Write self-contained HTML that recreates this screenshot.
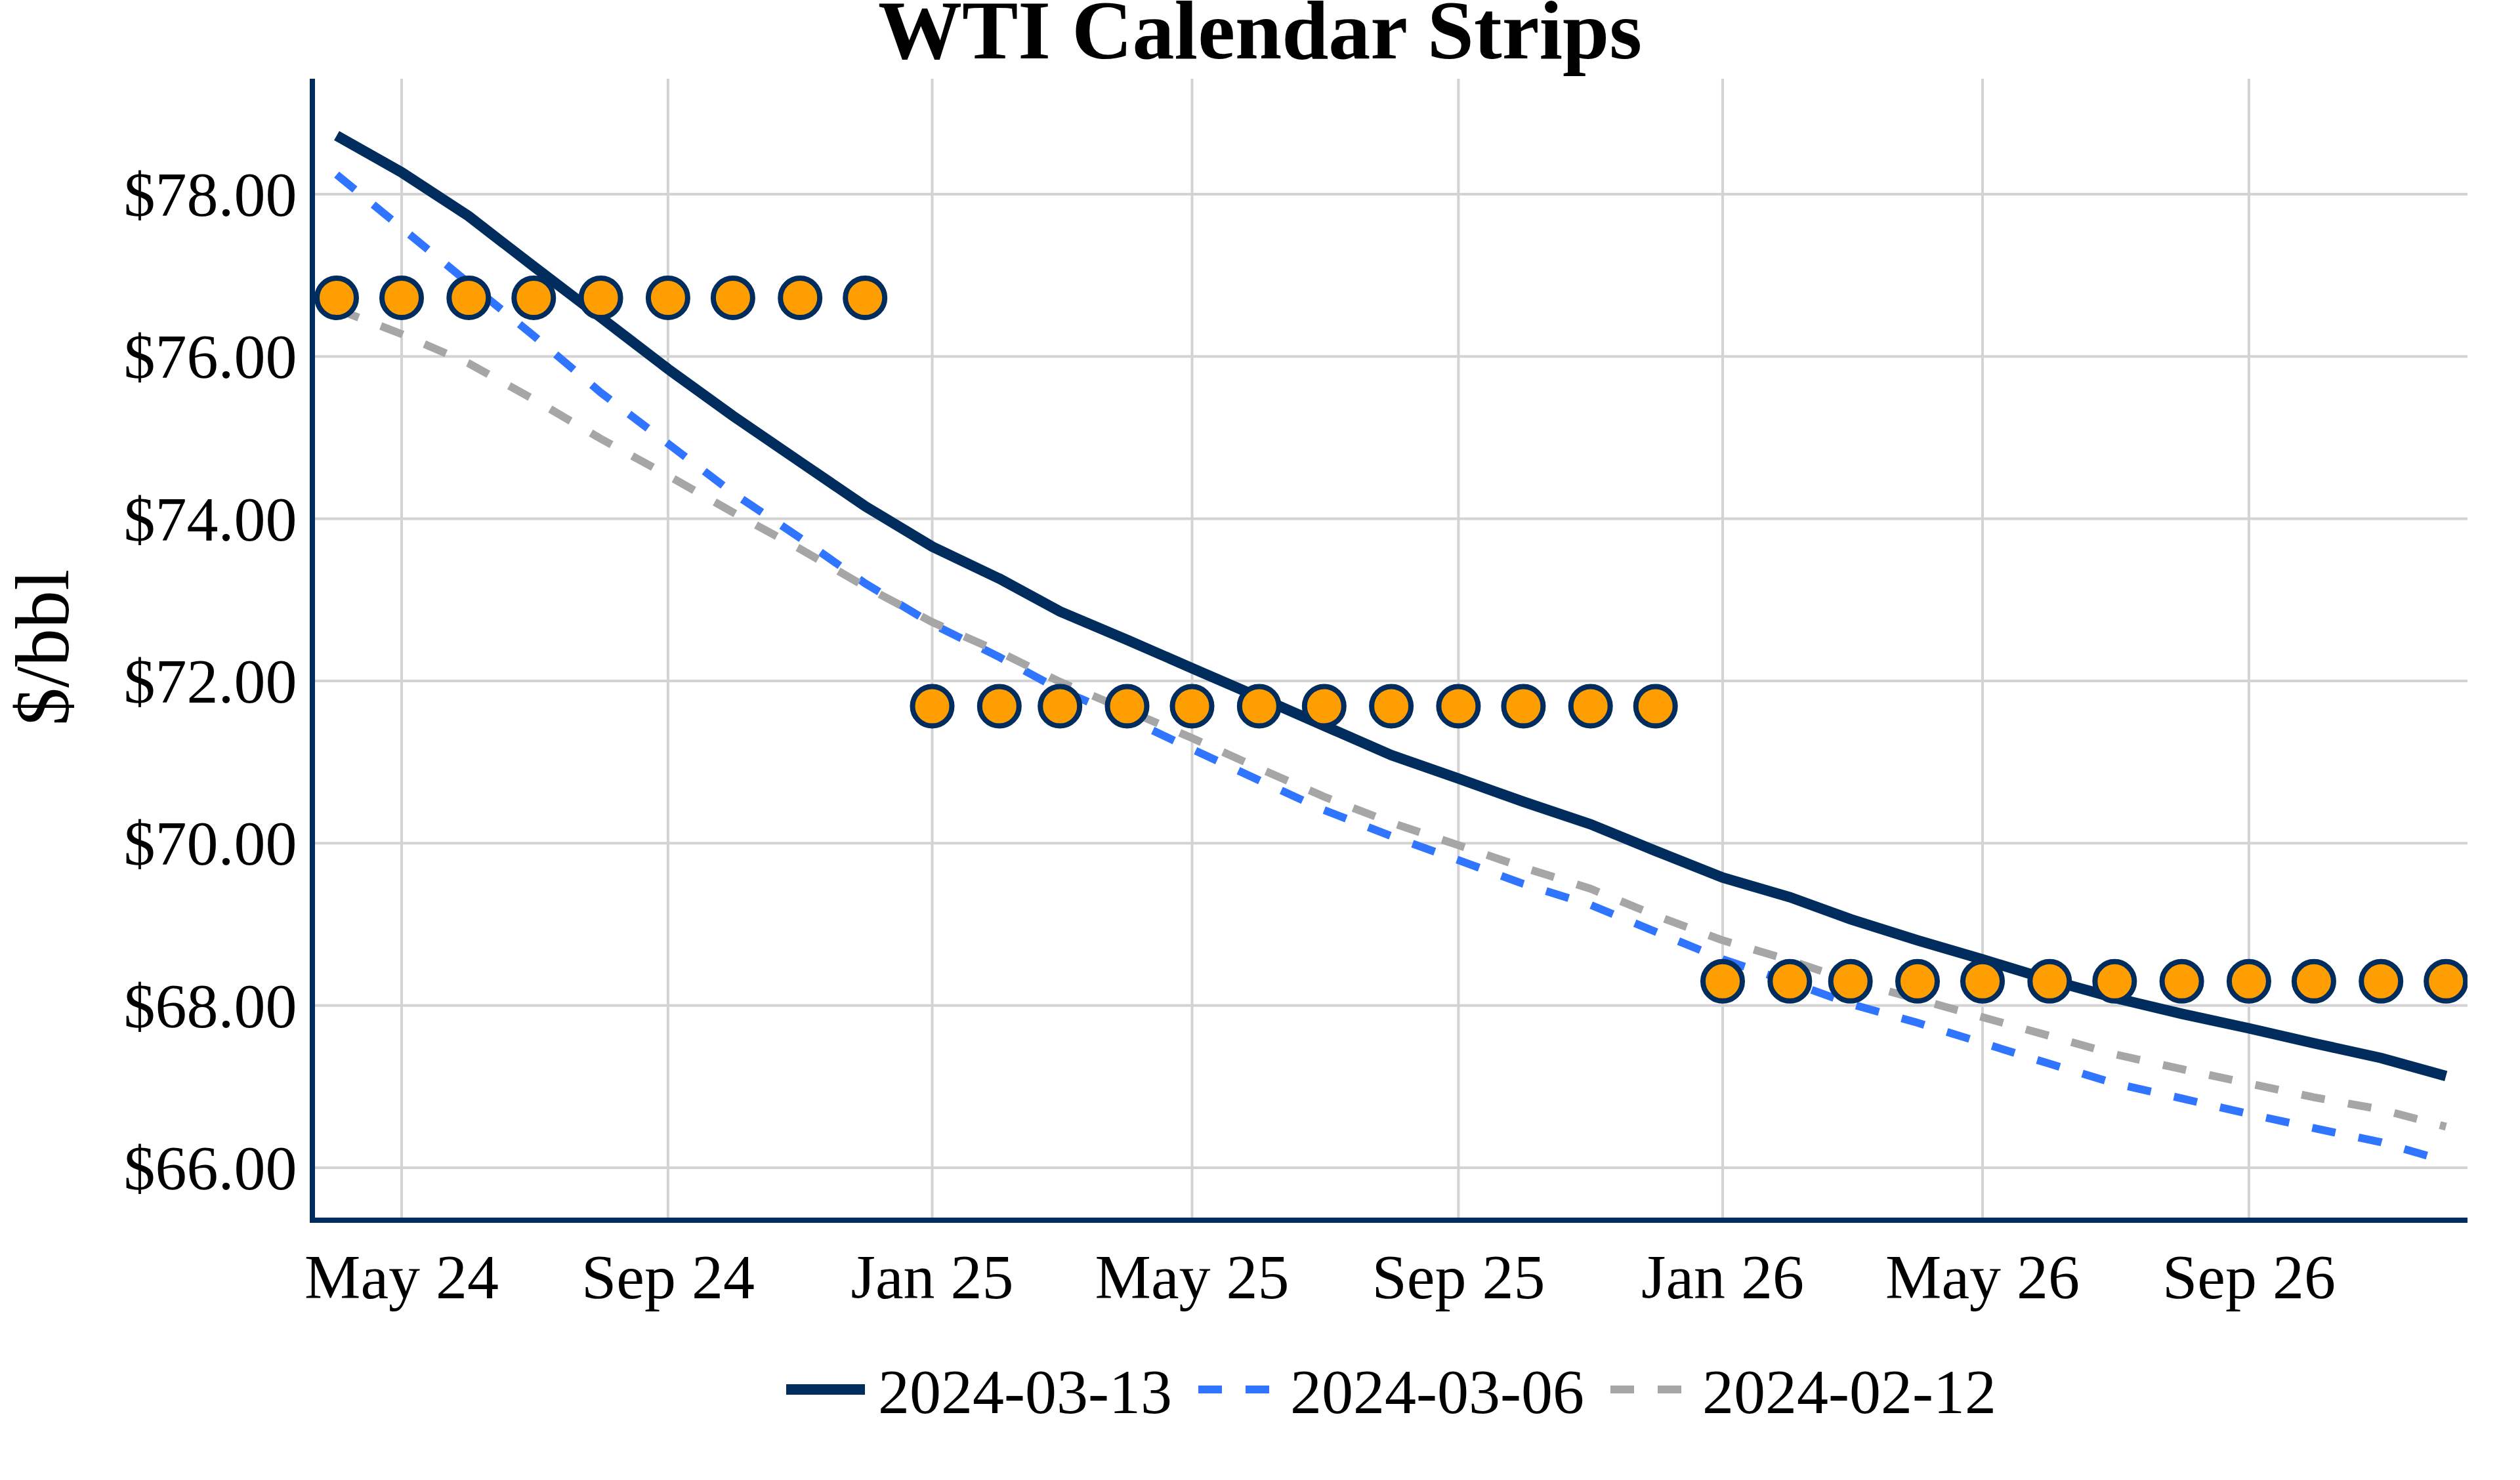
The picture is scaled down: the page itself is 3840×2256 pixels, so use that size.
<!DOCTYPE html>
<html lang="en">
<head>
<meta charset="utf-8">
<title>WTI Calendar Strips</title>
<style>
html,body{margin:0;padding:0;background:#fff;}
body{width:3840px;height:2256px;overflow:hidden;}
svg{display:block;}
text{font-family:"Liberation Serif",serif;fill:#000;white-space:pre;}
.tick{font-size:96px;}
.ttl{font-size:128px;font-weight:bold;}
.ax{font-size:116px;}
</style>
</head>
<body>
<svg width="3840" height="2256" viewBox="0 0 3840 2256">
<defs><clipPath id="plot"><rect x="480" y="120" width="3280" height="1736"/></clipPath></defs>
<rect x="0" y="0" width="3840" height="2256" fill="#ffffff"/>
<g fill="#D3D3D3">
<rect x="610.00" y="120" width="4" height="1736"/>
<rect x="1015.90" y="120" width="4" height="1736"/>
<rect x="1418.50" y="120" width="4" height="1736"/>
<rect x="1814.50" y="120" width="4" height="1736"/>
<rect x="2220.40" y="120" width="4" height="1736"/>
<rect x="2623.00" y="120" width="4" height="1736"/>
<rect x="3019.00" y="120" width="4" height="1736"/>
<rect x="3424.90" y="120" width="4" height="1736"/>
<rect x="480" y="294.00" width="3280" height="4"/>
<rect x="480" y="541.33" width="3280" height="4"/>
<rect x="480" y="788.67" width="3280" height="4"/>
<rect x="480" y="1036.00" width="3280" height="4"/>
<rect x="480" y="1283.33" width="3280" height="4"/>
<rect x="480" y="1530.67" width="3280" height="4"/>
<rect x="480" y="1778.00" width="3280" height="4"/>
</g>
<g clip-path="url(#plot)" fill="none" stroke-linejoin="miter" stroke-miterlimit="2">
<path d="M513.0,206.8 L612.0,262.7 L714.3,329.6 L813.3,406.2 L915.6,484.0 L1017.9,562.4 L1116.9,634.0 L1219.2,704.0 L1318.2,771.5 L1420.5,833.2 L1522.8,882.0 L1615.2,932.0 L1717.5,975.3 L1816.5,1018.6 L1918.8,1062.8 L2017.8,1106.4 L2120.1,1151.0 L2222.4,1186.8 L2321.4,1222.1 L2423.7,1256.4 L2522.7,1297.0 L2625.0,1337.8 L2727.3,1367.5 L2819.7,1401.1 L2922.0,1433.3 L3021.0,1462.4 L3123.3,1493.6 L3222.3,1521.0 L3324.6,1545.4 L3426.9,1567.5 L3525.9,1590.2 L3628.2,1612.8 L3727.2,1640.2" stroke="#002D5E" stroke-width="16"/>
<path d="M513.0,266.1 L612.0,347.4 L714.3,431.5 L813.3,511.8 L915.6,598.5 L1017.9,676.2 L1116.9,751.5 L1219.2,820.0 L1318.2,889.1 L1420.5,951.1 L1522.8,1001.6 L1615.2,1051.5 L1717.5,1095.0 L1816.5,1141.9 L1918.8,1189.5 L2017.8,1234.9 L2120.1,1274.5 L2222.4,1311.2 L2321.4,1347.4 L2423.7,1379.4 L2522.7,1420.3 L2625.0,1462.2 L2727.3,1496.8 L2819.7,1530.2 L2922.0,1559.1 L3021.0,1589.8 L3123.3,1621.6 L3222.3,1651.4 L3324.6,1674.4 L3426.9,1698.0 L3525.9,1719.7 L3628.2,1741.1 L3727.2,1769.9" stroke="#3075FF" stroke-width="12" stroke-dasharray="36,36"/>
<path d="M513.0,471.1 L612.0,509.2 L714.3,554.0 L813.3,608.7 L915.6,668.9 L1017.9,724.8 L1116.9,781.0 L1219.2,836.8 L1318.2,894.0 L1420.5,948.3 L1522.8,993.6 L1615.2,1039.4 L1717.5,1082.5 L1816.5,1125.1 L1918.8,1171.3 L2017.8,1214.5 L2120.1,1254.0 L2222.4,1288.4 L2321.4,1322.2 L2423.7,1354.7 L2522.7,1395.4 L2625.0,1433.3 L2727.3,1463.8 L2819.7,1495.2 L2922.0,1523.0 L3021.0,1550.5 L3123.3,1579.1 L3222.3,1607.0 L3324.6,1629.7 L3426.9,1651.5 L3525.9,1672.6 L3628.2,1691.2 L3727.2,1717.4" stroke="#A6A6A6" stroke-width="12" stroke-dasharray="36,36"/>
</g>
<g clip-path="url(#plot)" fill="#FF9E00" stroke="#002D5E" stroke-width="8">
<circle cx="513.0" cy="454.0" r="30"/>
<circle cx="612.0" cy="454.0" r="30"/>
<circle cx="714.3" cy="454.0" r="30"/>
<circle cx="813.3" cy="454.0" r="30"/>
<circle cx="915.6" cy="454.0" r="30"/>
<circle cx="1017.9" cy="454.0" r="30"/>
<circle cx="1116.9" cy="454.0" r="30"/>
<circle cx="1219.2" cy="454.0" r="30"/>
<circle cx="1318.2" cy="454.0" r="30"/>
<circle cx="1420.5" cy="1076.5" r="30"/>
<circle cx="1522.8" cy="1076.5" r="30"/>
<circle cx="1615.2" cy="1076.5" r="30"/>
<circle cx="1717.5" cy="1076.5" r="30"/>
<circle cx="1816.5" cy="1076.5" r="30"/>
<circle cx="1918.8" cy="1076.5" r="30"/>
<circle cx="2017.8" cy="1076.5" r="30"/>
<circle cx="2120.1" cy="1076.5" r="30"/>
<circle cx="2222.4" cy="1076.5" r="30"/>
<circle cx="2321.4" cy="1076.5" r="30"/>
<circle cx="2423.7" cy="1076.5" r="30"/>
<circle cx="2522.7" cy="1076.5" r="30"/>
<circle cx="2625.0" cy="1495.8" r="30"/>
<circle cx="2727.3" cy="1495.8" r="30"/>
<circle cx="2819.7" cy="1495.8" r="30"/>
<circle cx="2922.0" cy="1495.8" r="30"/>
<circle cx="3021.0" cy="1495.8" r="30"/>
<circle cx="3123.3" cy="1495.8" r="30"/>
<circle cx="3222.3" cy="1495.8" r="30"/>
<circle cx="3324.6" cy="1495.8" r="30"/>
<circle cx="3426.9" cy="1495.8" r="30"/>
<circle cx="3525.9" cy="1495.8" r="30"/>
<circle cx="3628.2" cy="1495.8" r="30"/>
<circle cx="3727.2" cy="1495.8" r="30"/>
</g>
<g shape-rendering="crispEdges" fill="#002D5E"><rect x="472" y="120" width="8" height="1744"/><rect x="472" y="1856" width="3288" height="8"/></g>
<g class="tick" text-anchor="middle">
<text x="612.0" y="1979">May 24</text>
<text x="1017.9" y="1979">Sep 24</text>
<text x="1420.5" y="1979">Jan 25</text>
<text x="1816.5" y="1979">May 25</text>
<text x="2222.4" y="1979">Sep 25</text>
<text x="2625.0" y="1979">Jan 26</text>
<text x="3021.0" y="1979">May 26</text>
<text x="3426.9" y="1979">Sep 26</text>
</g>
<g class="tick" text-anchor="end">
<text x="452.5" y="329.1">$78.00</text>
<text x="452.5" y="576.4">$76.00</text>
<text x="452.5" y="823.8">$74.00</text>
<text x="452.5" y="1071.1">$72.00</text>
<text x="452.5" y="1318.4">$70.00</text>
<text x="452.5" y="1565.8">$68.00</text>
<text x="452.5" y="1813.1">$66.00</text>
</g>
<text class="ttl" x="1920" y="89.4" text-anchor="middle">WTI Calendar Strips</text>
<text class="ax" transform="translate(104,987) rotate(-90)" text-anchor="middle">$/bbl</text>
<g fill="none">
<path d="M1198,2118 H1318" stroke="#002D5E" stroke-width="16"/>
<path d="M1826,2118 H1946" stroke="#3075FF" stroke-width="12" stroke-dasharray="36,36"/>
<path d="M2454,2118 H2574" stroke="#A6A6A6" stroke-width="12" stroke-dasharray="36,36"/>
</g>
<g class="tick">
<text x="1338" y="2154">2024-03-13</text>
<text x="1966" y="2154">2024-03-06</text>
<text x="2594" y="2154">2024-02-12</text>
</g>
</svg>
</body>
</html>
